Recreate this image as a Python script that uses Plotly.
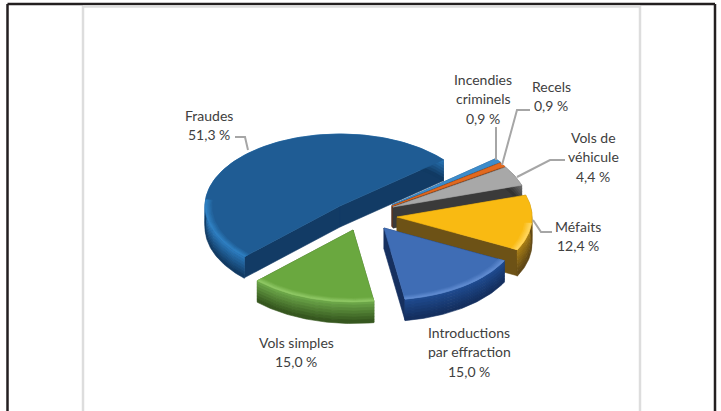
import numpy as np
import plotly.graph_objects as go

# ---- data ----
categories = ["Incendies criminels", "Recels", "Vols de véhicule", "Méfaits",
              "Introductions par effraction", "Vols simples", "Fraudes"]
values = [0.9, 0.9, 4.4, 12.4, 15.0, 15.0, 51.3]
value_labels = ["0,9 %", "0,9 %", "4,4 %", "12,4 %", "15,0 %", "15,0 %", "51,3 %"]
label_lines = [["Incendies", "criminels"], ["Recels"], ["Vols de", "véhicule"], ["Méfaits"],
               ["Introductions", "par effraction"], ["Vols simples"], ["Fraudes"]]

# ---- style / projection ----
START = 50.0
A, B = 135.0, 72.0
depths = [21, 21, 21, 26, 21, 21, 21]
apex = [(392, 205), (392, 206), (393, 207), (397, 217), (384, 228), (353, 230), (340, 206)]
tops = ["#3D8CCB", "#E2691F", "#A8A8A8", "#F9BA12", "#3F6DB5", "#6AA83F", "#1F5C94"]
rims = ["#6AB0E0", "#F08A48", "#D0D0D0", "#FFD55A", "#5F8BD0", "#8FC765", "#2F80C2"]
wall_hi = ["#2A78B5", "#B8541A", "#707070", "#A67C14", "#1F4A8E", "#6BA548", "#2A77B8"]
wall_lo = ["#1B4F7C", "#7A3610", "#333333", "#5F4715", "#142F5F", "#36571F", "#113A63"]
face = ["#1B4F7C", "#7A3610", "#3A3A3A", "#6D5216", "#16305F", "#3C6224", "#123B65"]
label_pos = [(483, 79), (551, 86), (593, 137), (578, 226), (469, 332), (296, 342), (209, 115)]
leaders = [
    [(496, 127), (496, 160)],
    [(530, 110), (517, 110), (502, 165)],
    [(565, 160), (550, 160), (517, 177)],
    [(552, 232), (541, 232), (533, 220)],
    [(235, 137), (245, 137), (248, 150)],
]


def hex2rgb(h):
    return np.array([int(h[i:i + 2], 16) for i in (1, 3, 5)], float)


def mix(c1, c2, t):
    r = hex2rgb(c1) * (1 - t) + hex2rgb(c2) * t
    return "rgb(%d,%d,%d)" % tuple(r)


def poly(fig, xs, ys, color):
    fig.add_trace(go.Scatter(x=xs, y=ys, mode="lines", fill="toself", fillcolor=color,
                             line=dict(width=0.6, color=color), hoverinfo="skip", showlegend=False))


def arc(cx, cy, t0, t1, r=1.0, dy=0.0):
    t = np.radians(np.linspace(t0, t1, max(int(abs(t1 - t0)) + 2, 3)))
    return cx + r * A * np.sin(t), cy - r * B * np.cos(t) + dy


fig = go.Figure()

# angular extents, clockwise from the start angle
total = sum(values)
edges = START + np.concatenate([[0], np.cumsum(values)]) / total * 360

# draw back-to-front
for i in [0, 1, 2, 6, 3, 4, 5]:
    cx, cy = apex[i]
    t0, t1 = edges[i], edges[i + 1]
    DEPTH = depths[i]
    # radial cut faces
    for t in (t0, t1):
        ex, ey = arc(cx, cy, t, t, 1.0)
        poly(fig, [cx, ex[0], ex[0], cx, cx], [cy, ey[0], ey[0] + DEPTH, cy + DEPTH, cy], face[i])
    # outer wall, stacked bands
    nb = 7
    for k in range(nb):
        d0, d1 = DEPTH * k / nb, DEPTH * (k + 1) / nb
        x0, y0 = arc(cx, cy, t0, t1, 1.0, d0)
        x1, y1 = arc(cx, cy, t0, t1, 1.0, d1 + 0.5)
        poly(fig, np.r_[x0, x1[::-1], x0[0]], np.r_[y0, y1[::-1], y0[0]],
             mix(wall_hi[i], wall_lo[i], k / (nb - 1)))
    # top surface
    x, y = arc(cx, cy, t0, t1)
    poly(fig, np.r_[cx, x, cx], np.r_[cy, y, cy], tops[i])
    # bevel along the front rim only
    f0, f1 = max(t0, 95.0 if i < 6 else t0), min(t1, 275.0)
    if f1 > f0:
        n = 4
        for k in range(n):
            r0, r1 = 1 - 0.05 * (n - k) / n, 1 - 0.05 * (n - k - 1) / n
            xa, ya = arc(cx, cy, f0, f1, r0)
            xb, yb = arc(cx, cy, f0, f1, r1)
            poly(fig, np.r_[xa, xb[::-1], xa[0]], np.r_[ya, yb[::-1], ya[0]],
                 mix(tops[i], rims[i], (k + 1) / n))

# leader lines
for pts in leaders:
    fig.add_trace(go.Scatter(x=[p[0] for p in pts], y=[p[1] for p in pts], mode="lines",
                             line=dict(color="#A6A6A6", width=2), hoverinfo="skip", showlegend=False))

# labels
LINE = 19.5
for lines, val, (lx, ly) in zip(label_lines, value_labels, label_pos):
    for j, s in enumerate(lines + [val]):
        fig.add_annotation(x=lx, y=ly + j * LINE, text=s, showarrow=False, xref="x", yref="y",
                           xanchor="center", yanchor="middle",
                           font=dict(family="Lato", size=14, color="#404040"))

# page frame
frame = [
    dict(x0=7.5, x1=715, y0=4, y1=4, color="#231F20", w=2.5),
    dict(x0=7.5, x1=7.5, y0=4, y1=411, color="#231F20", w=2.5),
    dict(x0=715, x1=715, y0=4, y1=411, color="#231F20", w=2.5),
    dict(x0=83, x1=83, y0=6, y1=411, color="#DDDDDD", w=2.5),
    dict(x0=640, x1=640, y0=6, y1=411, color="#DDDDDD", w=2.5),
    dict(x0=83, x1=640, y0=6.5, y1=6.5, color="#DDDDDD", w=2.5),
]
fig.update_layout(
    shapes=[dict(type="line", xref="x", yref="y", x0=f["x0"], x1=f["x1"], y0=f["y0"], y1=f["y1"],
                 line=dict(color=f["color"], width=f["w"])) for f in frame],
    width=721, height=411, margin=dict(l=0, r=0, t=0, b=0),
    paper_bgcolor="white", plot_bgcolor="white",
    xaxis=dict(range=[0, 721], visible=False, fixedrange=True),
    yaxis=dict(range=[411, 0], visible=False, fixedrange=True),
)
fig.write_html("out.html", config={"displayModeBar": False},
               post_script="document.body.style.margin='0';document.documentElement.style.overflow='hidden';")
